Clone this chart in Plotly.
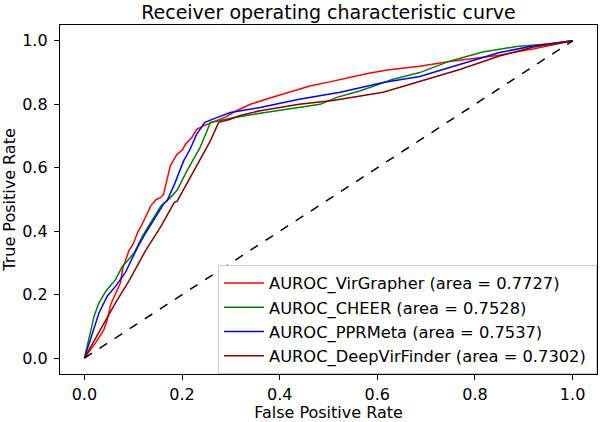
import plotly.graph_objects as go

# ---- data ----
red_fpr = [0, 0.023, 0.04, 0.047, 0.054, 0.064, 0.074, 0.078, 0.091, 0.1, 0.109, 0.116, 0.123, 0.13,
           0.136, 0.147, 0.155, 0.162, 0.17, 0.176, 0.183, 0.19, 0.2, 0.207, 0.22, 0.23, 0.244, 0.264,
           0.28, 0.292, 0.305, 0.34, 0.38, 0.42, 0.462, 0.5, 0.544, 0.58, 0.62, 0.687, 0.748, 0.8,
           0.85, 0.918, 0.96, 1.0]
red_tpr = [0, 0.049, 0.09, 0.122, 0.17, 0.206, 0.238, 0.28, 0.338, 0.36, 0.396, 0.415, 0.437, 0.46,
           0.48, 0.5, 0.505, 0.516, 0.57, 0.606, 0.625, 0.643, 0.655, 0.674, 0.695, 0.721, 0.732, 0.745,
           0.755, 0.762, 0.775, 0.8, 0.82, 0.838, 0.858, 0.87, 0.885, 0.897, 0.908, 0.92, 0.935, 0.945,
           0.955, 0.974, 0.988, 1.0]

green_fpr = [0, 0.013, 0.02, 0.03, 0.044, 0.064, 0.078, 0.09, 0.102, 0.119, 0.136, 0.157, 0.176, 0.19,
             0.21, 0.223, 0.237, 0.251, 0.258, 0.28, 0.305, 0.36, 0.44, 0.483, 0.517, 0.564, 0.632,
             0.687, 0.748, 0.816, 0.885, 0.95, 1.0]
green_tpr = [0, 0.09, 0.133, 0.175, 0.211, 0.248, 0.29, 0.31, 0.332, 0.385, 0.427, 0.48, 0.506, 0.53,
             0.59, 0.625, 0.664, 0.716, 0.743, 0.75, 0.758, 0.772, 0.79, 0.80, 0.822, 0.842, 0.879,
             0.90, 0.936, 0.965, 0.982, 0.99, 1.0]

blue_fpr = [0, 0.016, 0.03, 0.047, 0.064, 0.084, 0.1, 0.109, 0.126, 0.143, 0.164, 0.169, 0.185, 0.203,
            0.217, 0.23, 0.247, 0.271, 0.299, 0.36, 0.44, 0.524, 0.612, 0.687, 0.769, 0.85, 0.918, 1.0]
blue_tpr = [0, 0.08, 0.143, 0.196, 0.227, 0.27, 0.32, 0.35, 0.396, 0.437, 0.49, 0.495, 0.55, 0.621,
            0.66, 0.706, 0.743, 0.758, 0.774, 0.79, 0.816, 0.838, 0.869, 0.888, 0.926, 0.963, 0.984, 1.0]

brown_fpr = [0, 0.037, 0.064, 0.091, 0.125, 0.157, 0.184, 0.19, 0.224, 0.258, 0.275, 0.299, 0.319,
             0.36, 0.44, 0.509, 0.612, 0.68, 0.769, 0.85, 0.918, 1.0]
brown_tpr = [0, 0.101, 0.175, 0.243, 0.338, 0.416, 0.49, 0.495, 0.59, 0.685, 0.743, 0.753, 0.765,
             0.78, 0.80, 0.812, 0.838, 0.869, 0.91, 0.952, 0.98, 1.0]

chance_x = [0, 1]
chance_y = [0, 1]

labels = ["AUROC_VirGrapher (area = 0.7727)",
          "AUROC_CHEER (area = 0.7528)",
          "AUROC_PPRMeta (area = 0.7537)",
          "AUROC_DeepVirFinder (area = 0.7302)"]
colors = ["#ff0000", "#008000", "#0000ff", "#8b0000"]

tick_vals = [0.0, 0.2, 0.4, 0.6, 0.8, 1.0]
tick_text = ["0.0", "0.2", "0.4", "0.6", "0.8", "1.0"]

FONT = "DejaVu Sans"

fig = go.Figure()
series = [(red_fpr, red_tpr), (green_fpr, green_tpr), (blue_fpr, blue_tpr), (brown_fpr, brown_tpr)]
for (xs, ys), name, col in zip(series, labels, colors):
    fig.add_trace(go.Scatter(x=xs, y=ys, mode="lines", name=name + "\u00a0",
                             line=dict(color=col, width=1.5)))
fig.add_trace(go.Scatter(x=chance_x, y=chance_y, mode="lines", showlegend=False,
                         line=dict(color="black", width=1.5, dash="dash")))

axis_common = dict(range=[-0.05, 1.05], tickvals=tick_vals, ticktext=tick_text,
                   showgrid=False, zeroline=False, showline=True, linecolor="black",
                   linewidth=1.3, mirror=True, ticks="outside", ticklen=5, tickwidth=1.2,
                   tickcolor="black", tickfont=dict(family=FONT, size=16, color="black"))

fig.update_layout(
    width=600, height=422,
    margin=dict(l=60, r=3, t=25, b=48, autoexpand=False),
    paper_bgcolor="white", plot_bgcolor="white",
    font=dict(family=FONT, size=16, color="black"),
    title=dict(text="Receiver operating characteristic curve", x=0.5474, xanchor="center",
               y=0.971, yanchor="middle", font=dict(family=FONT, size=19, color="black")),
    xaxis=dict(**axis_common, ticklabelstandoff=1,
               title=dict(text="False Positive Rate", standoff=9,
                          font=dict(family=FONT, size=16))),
    yaxis=dict(**axis_common, ticklabelstandoff=3,
               title=dict(text="True Positive Rate", standoff=4,
                          font=dict(family=FONT, size=16))),
    legend=dict(x=1.0, y=0.0, xanchor="right", yanchor="bottom",
                bgcolor="white", bordercolor="#cccccc", borderwidth=1,
                font=dict(family=FONT, size=16.3, color="black"), itemwidth=40),
    showlegend=True,
)

fig.write_html("out.html", config={"displayModeBar": False},
               post_script="document.body.style.margin='0';")
